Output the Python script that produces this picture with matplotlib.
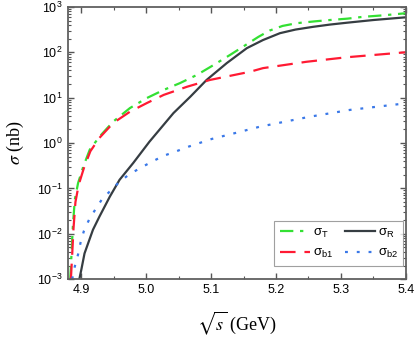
import matplotlib
matplotlib.use('Agg')
import matplotlib.pyplot as plt
from matplotlib.ticker import LogLocator, MultipleLocator, NullFormatter

plt.rcParams['font.family'] = ['Liberation Sans', 'DejaVu Sans']
plt.rcParams['mathtext.fontset'] = 'stix'
plt.rcParams['mathtext.default'] = 'regular'

# sigma_T (green dash-dot)
x_T = [4.883, 4.885, 4.887, 4.890, 4.895, 4.903, 4.913, 4.928, 4.949, 4.975, 5.001,
       5.027, 5.052, 5.078, 5.104, 5.129, 5.150, 5.173, 5.190, 5.210, 5.232, 5.260,
       5.283, 5.310, 5.334, 5.365, 5.400]
y_T = [1.0e-3, 3.7e-3, 1.45e-2, 5.6e-2, 0.13, 0.30, 0.71, 1.38, 2.95, 5.9, 9.8,
       14.8, 20.9, 31.6, 52.5, 87.0, 135, 219, 300, 380, 437, 480,
       513, 550, 603, 650, 724]

# sigma_R (dark solid)
x_R = [4.897, 4.900, 4.905, 4.918, 4.928, 4.944, 4.959, 4.980, 5.005, 5.042, 5.068,
       5.093, 5.124, 5.155, 5.180, 5.206, 5.230, 5.257, 5.283, 5.309, 5.350, 5.400]
y_R = [1.0e-3, 1.6e-3, 3.7e-3, 1.23e-2, 2.4e-2, 6.6e-2, 0.155, 0.363, 1.07, 4.57, 10.5,
       24.5, 57.5, 123, 186, 263, 316, 363, 407, 447, 513, 589]

# sigma_b1 (red dashed)
x_b1 = [4.884, 4.886, 4.888, 4.891, 4.896, 4.904, 4.914, 4.928, 4.949, 4.975, 5.001,
        5.027, 5.063, 5.098, 5.129, 5.160, 5.180, 5.247, 5.309, 5.350, 5.400]
y_b1 = [1.0e-3, 3.5e-3, 1.3e-2, 5.0e-2, 0.12, 0.28, 0.66, 1.3, 2.75, 4.9, 7.6,
        11.5, 17.4, 24.5, 30.2, 37.2, 44.7, 61.7, 77.6, 87.0, 100]

# sigma_b2 (blue dotted)
x_b2 = [4.886, 4.890, 4.895, 4.899, 4.904, 4.912, 4.922, 4.932, 4.945, 4.959, 4.974,
        4.992, 5.009, 5.027, 5.045, 5.065, 5.101, 5.140, 5.175, 5.252, 5.314, 5.391,
        5.400]
y_b2 = [1.0e-3, 1.9e-3, 3.5e-3, 6.5e-3, 1.15e-2, 2.05e-2, 3.5e-2, 5.8e-2, 8.9e-2, 0.141, 0.204,
        0.288, 0.389, 0.525, 0.646, 0.83, 1.23, 1.70, 2.29, 3.80, 5.37, 7.24,
        7.5]

fig = plt.figure(figsize=(4.15, 3.43), dpi=100)
ax = fig.add_axes([0.163, 0.186, 0.815, 0.794])

lw = 1.6
lT, = ax.plot(x_T, y_T, color='#33e033', lw=lw, dashes=(6, 3, 1.5, 3), label=r'$\mathregular{\sigma_T}$')
lR, = ax.plot(x_R, y_R, color='#363d42', lw=lw, label=r'$\mathregular{\sigma_R}$')
lb1, = ax.plot(x_b1, y_b1, color='#ff1a33', lw=lw, dashes=(7, 4), label=r'$\mathregular{\sigma_{b1}}$')
lb2, = ax.plot(x_b2, y_b2, color='#3a78e8', lw=lw, dashes=(1.3, 4), label=r'$\mathregular{\sigma_{b2}}$')

ax.set_yscale('log')
ax.set_xlim(4.879, 5.4)
ax.set_ylim(1e-3, 1e3)
ax.xaxis.set_major_locator(MultipleLocator(0.1))
ax.xaxis.set_minor_locator(MultipleLocator(0.05))
ax.yaxis.set_major_locator(LogLocator(base=10, numticks=10))
ax.yaxis.set_minor_locator(LogLocator(base=10, subs=range(2, 10), numticks=20))
ax.yaxis.set_minor_formatter(NullFormatter())
ax.xaxis.set_major_formatter(plt.FuncFormatter(lambda v, p: f'{v:.1f}'))

ax.tick_params(which='both', direction='in', top=True, right=True, colors='#555555',
               labelcolor='black', labelsize=9)
ax.tick_params(which='major', length=4, width=1.0)
ax.tick_params(which='minor', length=2.5, width=0.8)
for s in ax.spines.values():
    s.set_color('#606060')
    s.set_linewidth(1.3)

ax.set_xlabel(r'$\sqrt{\mathit{s}}$ (GeV)', fontfamily='Liberation Serif', fontsize=13, labelpad=10)
ax.set_ylabel(r'$\mathit{\sigma}$ (nb)', fontfamily='Liberation Serif', fontsize=13, labelpad=8)

# matplotlib fills legend columns first: T, b1 | R, b2
leg = ax.legend([lT, lb1, lR, lb2], [lT.get_label(), lb1.get_label(), lR.get_label(), lb2.get_label()],
                ncol=2, loc='lower right', bbox_to_anchor=(0.992, 0.05), fontsize=9.5,
                handlelength=2.3, columnspacing=0.9, handletextpad=0.2,
                fancybox=False, borderpad=0.4, labelspacing=0.55, borderaxespad=0)
leg.get_frame().set_edgecolor('#888888')
leg.get_frame().set_linewidth(0.8)

fig.savefig('out.png', dpi=100)
